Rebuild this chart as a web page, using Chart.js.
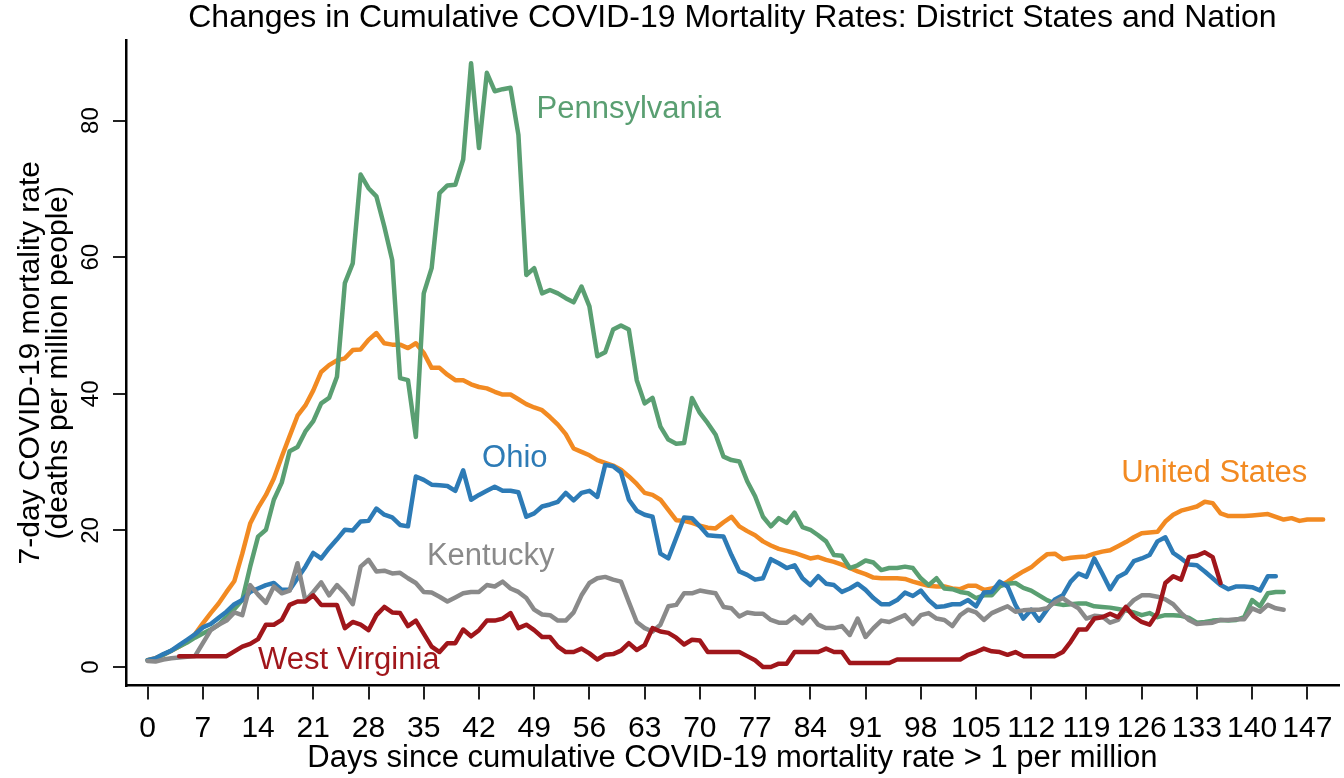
<!DOCTYPE html>
<html>
<head>
<meta charset="utf-8">
<script src="https://cdn.jsdelivr.net/npm/chart.js@4.4.0/dist/chart.umd.min.js"></script>
<style>
  html, body { margin: 0; padding: 0; background: #fff; }
  canvas { display: block; }
</style>
</head>
<body>
<canvas id="mortality-chart" width="1344" height="778"></canvas>
<script>
// Days since cumulative rate > 1 per million
const days = Array.from({ length: 150 }, (_, i) => i);
const xTicks = [0, 7, 14, 21, 28, 35, 42, 49, 56, 63, 70, 77, 84, 91, 98, 105, 112, 119, 126, 133, 140, 147];
const yTicks = [0, 20, 40, 60, 80];

// 7-day mortality rate, deaths per million (index = day)
const unitedStates = [
  1.0, 1.3, 1.8, 2.4, 3.0, 3.7, 4.8, 6.4, 7.9, 9.3,
  11.0, 12.6, 16.6, 21.0, 23.3, 25.2, 27.6, 30.8, 33.8, 36.8,
  38.3, 40.5, 43.2, 44.2, 44.9, 45.2, 46.4, 46.5, 47.9, 48.9,
  47.4, 47.2, 47.2, 46.7, 47.4, 46.0, 43.8, 43.8, 42.8, 42.0,
  42.0, 41.4, 41.0, 40.8, 40.3, 39.9, 39.9, 39.2, 38.5, 38.0,
  37.6, 36.6, 35.5, 34.1, 32.0, 31.5, 31.0, 30.3, 29.9, 29.5,
  28.9, 27.9, 26.8, 25.5, 25.2, 24.5, 23.0, 21.5, 21.4, 21.1,
  20.7, 20.4, 20.3, 21.2, 22.0, 20.6, 19.9, 19.3, 18.4, 17.8,
  17.3, 17.0, 16.7, 16.3, 15.9, 16.1, 15.7, 15.4, 15.0, 14.5,
  14.0, 13.6, 13.1, 13.0, 13.0, 13.0, 12.9, 12.5, 12.2, 11.9,
  11.8, 11.8, 11.5, 11.4, 11.9, 11.9, 11.3, 11.5, 11.9, 12.5,
  13.3, 14.0, 14.6, 15.6, 16.5, 16.6, 15.8, 16.0, 16.1, 16.2,
  16.6, 16.9, 17.1, 17.7, 18.3, 19.0, 19.6, 19.7, 19.8, 21.3,
  22.3, 22.9, 23.2, 23.5, 24.2, 24.0, 22.5, 22.1, 22.1, 22.1,
  22.2, 22.3, 22.4, 22.0, 21.6, 21.8, 21.4, 21.6, 21.6, 21.6
];

const pennsylvania = [
  1.0, 1.2, 1.8, 2.4, 3.0, 3.6, 4.3, 4.9, 5.5, 6.2,
  7.3, 8.5, 9.8, 14.7, 19.1, 20.1, 24.5, 27.0, 31.6, 32.2,
  34.5, 36.0, 38.6, 39.4, 42.5, 56.2, 59.1, 72.1, 70.1, 68.9,
  64.5, 59.6, 42.3, 42.0, 33.7, 54.7, 58.4, 69.4, 70.5, 70.6,
  74.3, 88.4, 76.0, 87.0, 84.3, 84.6, 84.8, 77.9, 57.4, 58.4,
  54.7, 55.2, 54.7, 54.0, 53.4, 55.7, 52.8, 45.5, 46.1, 49.4,
  50.0, 49.4, 42.0, 38.6, 39.4, 35.2, 33.3, 32.7, 32.8, 39.4,
  37.2, 35.7, 34.0, 30.8, 30.3, 30.1, 27.2, 25.0, 22.0, 20.6,
  21.8, 21.1, 22.6, 20.5, 20.1, 19.3, 18.4, 16.4, 16.3, 14.5,
  14.9, 15.6, 15.3, 14.2, 14.5, 14.5, 14.7, 14.5, 13.0, 12.0,
  13.0, 11.5, 11.4, 11.0, 10.8, 10.1, 10.5, 10.5, 11.8, 12.2,
  12.3, 11.6, 11.2, 10.5, 9.8, 9.3, 9.1, 9.2, 9.3, 9.3,
  8.9, 8.8, 8.7, 8.5, 8.3, 8.0, 7.6, 7.9, 7.3, 7.6,
  7.6, 7.5, 7.2, 6.5, 6.6, 6.8, 6.9, 6.8, 6.9, 7.3,
  9.8, 8.9, 10.8, 11.0, 11.0
];

const ohio = [
  1.0, 1.3, 1.9, 2.4, 3.2, 4.0, 4.8, 5.8, 6.3, 7.2,
  8.1, 9.2, 9.8, 11.0, 11.5, 12.0, 12.3, 11.3, 11.3, 13.0,
  14.7, 16.7, 15.9, 17.4, 18.7, 20.1, 20.0, 21.3, 21.4, 23.2,
  22.3, 21.9, 20.8, 20.6, 27.9, 27.4, 26.7, 26.6, 26.5, 25.8,
  28.8, 24.5, 25.2, 25.8, 26.4, 25.8, 25.8, 25.6, 22.0, 22.5,
  23.5, 23.8, 24.2, 25.5, 24.4, 25.5, 25.8, 24.9, 29.6, 29.4,
  28.5, 24.5, 22.9, 22.3, 22.0, 16.6, 15.9, 18.9, 21.9, 21.8,
  20.6, 19.3, 19.2, 19.1, 16.4, 14.0, 13.5, 12.8, 13.0, 15.8,
  15.2, 14.5, 14.9, 13.0, 12.0, 13.3, 12.2, 12.0, 11.0, 11.5,
  12.2, 11.3, 10.1, 9.2, 9.2, 9.8, 10.9, 10.4, 11.2, 9.8,
  8.8, 8.9, 9.2, 9.2, 9.8, 8.9, 10.9, 11.0, 12.5, 11.8,
  9.1, 7.1, 8.4, 6.8, 8.4, 9.9, 10.5, 12.5, 13.7, 13.2,
  15.9, 13.7, 11.4, 13.2, 13.8, 15.5, 15.9, 16.4, 18.4, 19.0,
  16.7, 15.9, 15.0, 14.9, 14.0, 13.0, 12.0, 11.4, 11.8, 11.8,
  11.7, 11.2, 13.3, 13.3
];

const kentucky = [
  0.9, 0.8, 1.1, 1.3, 1.4, 1.5, 1.6, 3.5, 5.4, 6.2,
  6.8, 8.0, 7.6, 12.0, 10.6, 9.4, 11.8, 10.8, 11.2, 15.2,
  9.7, 11.0, 12.4, 10.5, 12.0, 10.8, 9.2, 14.7, 15.7, 14.0,
  14.1, 13.7, 13.8, 13.0, 12.3, 11.0, 10.9, 10.3, 9.6, 10.2,
  10.8, 11.0, 11.0, 12.0, 11.8, 12.5, 11.5, 11.0, 10.1, 8.4,
  7.7, 7.6, 6.8, 6.8, 8.0, 10.5, 12.3, 13.0, 13.2, 12.8,
  12.5, 9.5, 6.6, 5.7, 5.2, 6.2, 8.9, 9.1, 10.8, 10.8,
  11.2, 11.0, 10.8, 8.8, 8.6, 7.4, 8.0, 7.8, 7.8, 6.9,
  6.5, 6.5, 7.4, 6.4, 7.6, 6.2, 5.7, 5.7, 6.0, 4.7,
  7.1, 4.4, 5.7, 6.8, 6.6, 7.1, 7.6, 6.3, 7.6, 7.9,
  7.1, 6.9, 6.0, 7.6, 8.4, 8.0, 6.9, 7.9, 8.4, 8.9,
  8.1, 8.3, 8.4, 8.4, 8.6, 9.5, 10.1, 9.3, 8.6, 7.1,
  7.5, 7.4, 6.5, 6.9, 8.6, 9.8, 10.5, 10.5, 10.3, 9.9,
  9.2, 7.9, 6.9, 6.3, 6.4, 6.5, 6.9, 6.9, 7.0, 7.0,
  8.6, 8.1, 9.1, 8.6, 8.4
];

const westVirginia = [
  null, null, null, null, 1.6, 1.6, 1.6, 1.6, 1.6, 1.6,
  1.6, 2.3, 3.0, 3.4, 4.1, 6.2, 6.2, 6.9, 9.1, 9.6,
  9.6, 10.5, 9.1, 9.1, 9.1, 5.7, 6.6, 6.2, 5.4, 7.6,
  8.8, 8.0, 7.9, 6.0, 6.8, 4.9, 3.0, 2.2, 3.5, 3.5,
  5.5, 4.5, 5.4, 6.8, 6.8, 7.1, 7.9, 5.7, 6.2, 5.4,
  4.4, 4.4, 3.0, 2.2, 2.2, 2.7, 2.0, 1.1, 1.8, 1.9,
  2.4, 3.5, 2.5, 3.2, 5.7, 5.2, 5.0, 4.3, 3.3, 4.0,
  3.9, 2.2, 2.2, 2.2, 2.2, 2.2, 1.6, 1.0, 0.0, 0.0,
  0.5, 0.5, 2.2, 2.2, 2.2, 2.2, 2.7, 2.2, 2.2, 0.6,
  0.6, 0.6, 0.6, 0.6, 0.6, 1.1, 1.1, 1.1, 1.1, 1.1,
  1.1, 1.1, 1.1, 1.1, 1.8, 2.2, 2.7, 2.3, 2.2, 1.8,
  2.2, 1.6, 1.6, 1.6, 1.6, 1.6, 2.2, 3.7, 5.5, 5.5,
  7.1, 7.3, 7.8, 7.3, 8.8, 7.4, 6.6, 6.2, 7.9, 12.3,
  13.3, 12.8, 16.1, 16.3, 16.8, 16.1, 12.3
];

const COLORS = {
  us: "#f28a22",
  pa: "#5a9f72",
  oh: "#2d7bb6",
  ky: "#8a8a8a",
  wv: "#a0161b",
};

const FONT = "'Liberation Sans', Arial, Helvetica, sans-serif";

// in-plot series labels, placed in data units
const labelSpots = [
  { text: "Pennsylvania", day: 49.3, rate: 81.6, color: COLORS.pa },
  { text: "Ohio", day: 42.4, rate: 30.6, color: COLORS.oh },
  { text: "Kentucky", day: 35.4, rate: 16.25, color: COLORS.ky },
  { text: "West Virginia", day: 14.0, rate: 0.9, color: COLORS.wv },
  { text: "United States", day: 123.4, rate: 28.4, color: COLORS.us },
];

const toPoints = (vals) => vals.map((v, i) => ({ x: days[i], y: v }));

const series = (label, vals, color) => ({
  label: label,
  data: toPoints(vals),
  borderColor: color,
  backgroundColor: color,
  borderWidth: 4.5,
  borderJoinStyle: "round",
  borderCapStyle: "round",
  pointRadius: 0,
  pointHoverRadius: 0,
  tension: 0,
  spanGaps: false,
});

const seriesLabels = {
  id: "seriesLabels",
  afterDatasetsDraw(chart) {
    const { ctx, scales: { x, y } } = chart;
    ctx.save();
    ctx.font = "31px " + FONT;
    ctx.textAlign = "left";
    ctx.textBaseline = "middle";
    labelSpots.forEach((l) => {
      ctx.fillStyle = l.color;
      ctx.fillText(l.text, x.getPixelForValue(l.day), y.getPixelForValue(l.rate));
    });
    ctx.restore();
  },
};

Chart.defaults.font.family = FONT;
Chart.defaults.color = "#000";

const ctx = document.getElementById("mortality-chart");

new Chart(ctx, {
  type: "line",
  data: {
    datasets: [
      series("West Virginia", westVirginia, COLORS.wv),
      series("Kentucky", kentucky, COLORS.ky),
      series("Ohio", ohio, COLORS.oh),
      series("Pennsylvania", pennsylvania, COLORS.pa),
      series("United States", unitedStates, COLORS.us),
    ],
  },
  options: {
    responsive: false,
    animation: false,
    layout: {
      padding: 0,
    },
    plugins: {
      legend: {
        display: false,
      },
      tooltip: {
        enabled: false,
      },
      title: {
        display: true,
        text: "Changes in Cumulative COVID-19 Mortality Rates: District States and Nation",
        fullSize: false,
        color: "#000",
        font: {
          size: 32,
          weight: "normal",
          lineHeight: 1,
        },
        padding: {
          top: 2,
          bottom: 6,
        },
      },
    },
    scales: {
      x: {
        type: "linear",
        min: -2.74,
        max: 151,
        afterBuildTicks: (scale) => {
          scale.ticks = xTicks.map((v) => ({ value: v }));
        },
        afterFit: (scale) => {
          scale.height = 92.5;
        },
        border: {
          display: true,
          color: "#000",
          width: 2.5,
        },
        grid: {
          drawOnChartArea: false,
          drawTicks: true,
          tickLength: 14,
          color: "#222",
          lineWidth: 2,
        },
        ticks: {
          autoSkip: false,
          maxRotation: 0,
          minRotation: 0,
          padding: 11.5,
          color: "#000",
          font: {
            size: 30,
          },
        },
        title: {
          display: true,
          text: "Days since cumulative COVID-19 mortality rate > 1 per million",
          color: "#000",
          font: {
            size: 31,
            lineHeight: 1,
          },
          padding: {
            top: 0,
            bottom: 4.5,
          },
        },
      },
      y: {
        type: "linear",
        min: -2.7,
        max: 91.8,
        afterBuildTicks: (scale) => {
          scale.ticks = yTicks.map((v) => ({ value: v }));
        },
        afterFit: (scale) => {
          scale.width = 126;
        },
        border: {
          display: true,
          color: "#000",
          width: 2.5,
        },
        grid: {
          drawOnChartArea: false,
          drawTicks: true,
          tickLength: 13,
          color: "#222",
          lineWidth: 2,
        },
        ticks: {
          minRotation: 90,
          maxRotation: 90,
          crossAlign: "center",
          padding: 8,
          color: "#000",
          font: {
            size: 24,
          },
        },
        title: {
          display: true,
          text: ["7-day COVID-19 mortality rate", "(deaths per million people)"],
          color: "#000",
          font: {
            size: 30,
            lineHeight: 0.96,
          },
          padding: {
            top: 16,
            bottom: 0,
          },
        },
      },
    },
  },
  plugins: [seriesLabels],
});
</script>
</body>
</html>
